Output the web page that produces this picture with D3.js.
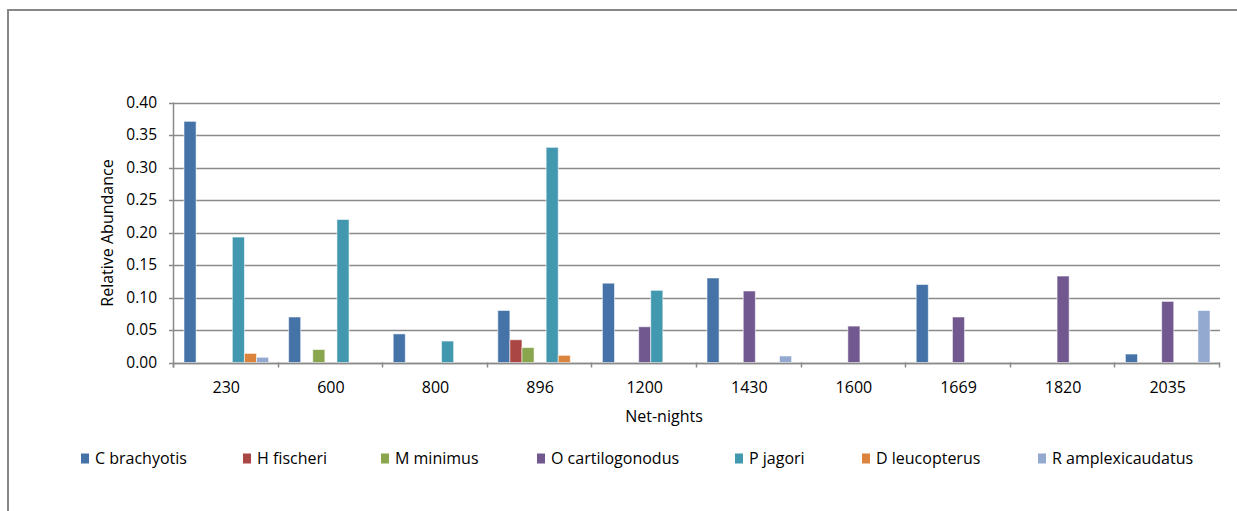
<!DOCTYPE html>
<html>
<head>
<meta charset="utf-8">
<script src="https://cdn.jsdelivr.net/npm/d3@7"></script>
<style>
  body { margin: 0; background: #fff; }
  text { font-family: "Open Sans", "Noto Sans", sans-serif; fill: #000; }
</style>
</head>
<body>
<div id="chart"></div>
<script>
// categories (net-nights) and species
var categories = ["230", "600", "800", "896", "1200", "1430", "1600", "1669", "1820", "2035"];
var species = ["C brachyotis", "H fischeri", "M minimus", "O cartilogonodus", "P jagori", "D leucopterus", "R amplexicaudatus"];
var colors = ["#4572A7", "#AA4643", "#89A54E", "#71588F", "#4198AF", "#DB843D", "#93A9CF"];

// relative abundance per species, one value per category
var cBrachyotis     = [0.371, 0.070, 0.044, 0.080, 0.122, 0.130, 0, 0.120, 0, 0.013];
var hFischeri       = [0, 0, 0, 0.035, 0, 0, 0, 0, 0, 0];
var mMinimus        = [0, 0.020, 0, 0.023, 0, 0, 0, 0, 0, 0];
var oCartilogonodus = [0, 0, 0, 0, 0.055, 0.110, 0.056, 0.070, 0.133, 0.094];
var pJagori         = [0.193, 0.220, 0.033, 0.331, 0.111, 0, 0, 0, 0, 0];
var dLeucopterus    = [0.014, 0, 0, 0.011, 0, 0, 0, 0, 0, 0];
var rAmplexicaudatus = [0.008, 0, 0, 0, 0, 0.010, 0, 0, 0, 0.080];
var seriesValues = [cBrachyotis, hFischeri, mMinimus, oCartilogonodus, pJagori, dLeucopterus, rAmplexicaudatus];

var yTicks = [0, 0.05, 0.10, 0.15, 0.20, 0.25, 0.30, 0.35, 0.40];

var svgWidth = 1237;
var svgHeight = 511;

var plot = { left: 174, right: 1220, top: 102.5, bottom: 362.5 };

var svg = d3.select("#chart")
  .append("svg")
  .attr("width", svgWidth)
  .attr("height", svgHeight);

// outer chart border (runs off the right and bottom edges)
svg.append("path")
  .attr("d", "M8," + (svgHeight + 2) + "V10H" + (svgWidth + 2))
  .attr("fill", "none")
  .attr("stroke", "#878787")
  .attr("stroke-width", 2);

var x0 = d3.scaleBand()
  .domain(categories)
  .range([plot.left, plot.right]);

var groupPad = 10;
var x1 = d3.scaleBand()
  .domain(d3.range(species.length))
  .range([groupPad, x0.bandwidth() - groupPad]);

var y = d3.scaleLinear()
  .domain([0, 0.40])
  .range([plot.bottom, plot.top]);

// gridlines
svg.append("g")
  .selectAll("line")
  .data(yTicks)
  .enter()
  .append("line")
  .attr("x1", plot.left - 5)
  .attr("x2", plot.right)
  .attr("y1", d => Math.round(y(d)) + 0.5)
  .attr("y2", d => Math.round(y(d)) + 0.5)
  .attr("stroke", "#8a8a8a")
  .attr("stroke-width", 1.5);

// y tick labels
svg.append("g")
  .selectAll("text")
  .data(yTicks)
  .enter()
  .append("text")
  .attr("x", 157)
  .attr("y", d => y(d))
  .attr("dy", "0.35em")
  .attr("text-anchor", "end")
  .style("font-size", "15.5px")
  .text(d => d3.format(".2f")(d));

// bars
var barData = [];
seriesValues.forEach(function(vals, s) {
  vals.forEach(function(v, c) {
    if (v > 0) barData.push({ s: s, c: categories[c], v: v });
  });
});

svg.append("g")
  .selectAll("rect")
  .data(barData)
  .enter()
  .append("rect")
  .attr("x", d => x0(d.c) + x1(d.s))
  .attr("y", d => y(d.v))
  .attr("width", x1.bandwidth())
  .attr("height", d => y(0) - y(d.v))
  .attr("fill", d => colors[d.s])
  .attr("stroke", "#ffffff")
  .attr("stroke-opacity", 0.55)
  .attr("stroke-width", 1);

// axis lines
svg.append("line")
  .attr("x1", plot.left - 0.5).attr("x2", plot.left - 0.5)
  .attr("y1", plot.top).attr("y2", plot.bottom + 5)
  .attr("stroke", "#8a8a8a").attr("stroke-width", 1.5);

svg.append("line")
  .attr("x1", plot.left).attr("x2", plot.right)
  .attr("y1", Math.round(y(0)) + 0.5).attr("y2", Math.round(y(0)) + 0.5)
  .attr("stroke", "#8a8a8a").attr("stroke-width", 1.5);

// x ticks at category boundaries
var bounds = categories.map(c => x0(c)).concat([plot.right]);
svg.append("g")
  .selectAll("line")
  .data(bounds)
  .enter()
  .append("line")
  .attr("x1", d => Math.round(d) - 0.5)
  .attr("x2", d => Math.round(d) - 0.5)
  .attr("y1", plot.bottom)
  .attr("y2", plot.bottom + 5)
  .attr("stroke", "#8a8a8a")
  .attr("stroke-width", 1.5);

// x tick labels
svg.append("g")
  .selectAll("text")
  .data(categories)
  .enter()
  .append("text")
  .attr("x", d => x0(d) + x0.bandwidth() / 2)
  .attr("y", 387.5)
  .attr("dy", "0.35em")
  .attr("text-anchor", "middle")
  .style("font-size", "16px")
  .text(d => d);

// axis titles
svg.append("text")
  .attr("x", 664)
  .attr("y", 416)
  .attr("dy", "0.35em")
  .attr("text-anchor", "middle")
  .style("font-size", "16px")
  .text("Net-nights");

svg.append("text")
  .attr("transform", "translate(107, 233) rotate(-90)")
  .attr("dy", "0.35em")
  .attr("text-anchor", "middle")
  .style("font-size", "16px")
  .text("Relative Abundance");

// legend
var legendX = [81, 243, 381, 537, 735, 862, 1038];
var legend = svg.append("g")
  .selectAll("g")
  .data(species)
  .enter()
  .append("g")
  .attr("transform", (d, i) => `translate(${legendX[i]}, 458.5)`);

legend.append("rect")
  .attr("x", 0)
  .attr("y", -5)
  .attr("width", 8)
  .attr("height", 10)
  .attr("fill", (d, i) => colors[i]);

legend.append("text")
  .attr("x", 14)
  .attr("y", 0)
  .attr("dy", "0.35em")
  .style("font-size", "16px")
  .text(d => d);
</script>
</body>
</html>
